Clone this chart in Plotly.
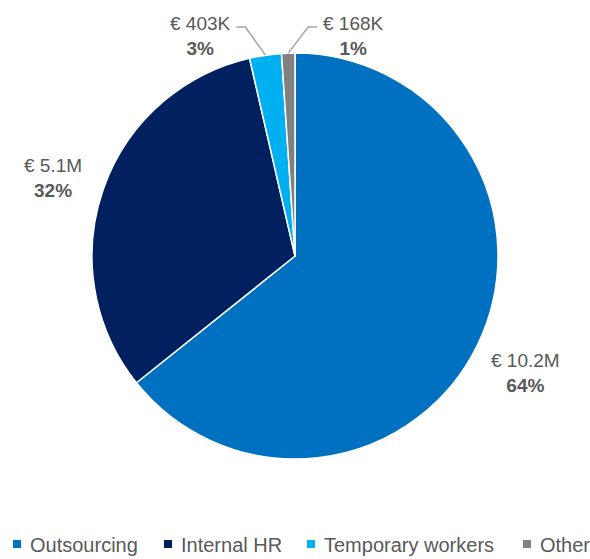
import math
import plotly.graph_objects as go

# ---- data ----
categories = ["Outsourcing", "Internal HR", "Temporary workers", "Other"]
values = [10.2e6, 5.1e6, 403e3, 168e3]
value_labels = ["€ 10.2M", "€ 5.1M", "€ 403K", "€ 168K"]
colors = ["#0070C0", "#002060", "#00B0F0", "#808080"]

# ---- layout constants (pixels) ----
W, H = 590, 559
CX, CY, R = 295, 256, 203
FONT = "Liberation Sans, Arial, sans-serif"
TXT = "#595959"
LEGEND_X = [13, 164, 307, 523]   # left edge of each legend swatch
LEGEND_Y = 545

total = sum(values)
pcts = [v / total for v in values]

fig = go.Figure()
fig.add_trace(go.Pie(
    labels=categories, values=values, sort=False, direction="clockwise",
    rotation=0, textinfo="none", hoverinfo="label+value+percent", showlegend=False,
    marker=dict(colors=colors, line=dict(color="white", width=1.5)),
    domain=dict(x=[(CX - R) / W, (CX + R) / W], y=[1 - (CY + R) / H, 1 - (CY - R) / H]),
))

# hidden pixel-space axes for annotations / leader lines / legend
fig.add_trace(go.Scatter(x=[0], y=[0], mode="markers", marker=dict(opacity=0),
                         showlegend=False, hoverinfo="skip"))

annotations = []
shapes = []
cum = 0.0
small_count = 0
for i, (cat, p) in enumerate(zip(categories, pcts)):
    mid = (cum + p / 2) * 2 * math.pi
    cum += p
    sx, sy = math.sin(mid), -math.cos(mid)
    text = f"{value_labels[i]}<br><b>{round(p * 100):.0f}%</b>"
    if p > 0.1:
        lx, ly = CX + 1.26 * R * sx, CY + 1.26 * R * sy + 6
        annotations.append(dict(x=lx, y=ly, xref="x", yref="y", text=text, showarrow=False,
                                align="center", xanchor="center", yanchor="middle",
                                font=dict(family=FONT, size=19, color=TXT)))
    else:
        ex, ey = CX + R * sx, CY + R * sy
        side = -1 if small_count == 0 else 1
        small_count += 1
        bx, by = ex + side * 20, 27
        hx = bx + side * 9
        shapes.append(dict(type="path", xref="x", yref="y",
                           path=f"M {ex},{ey} L {bx},{by} L {hx},{by}",
                           line=dict(color="#A6A6A6", width=1.5)))
        annotations.append(dict(x=hx + side * 36, y=by + 9, xref="x", yref="y", text=text,
                                showarrow=False, align="center", xanchor="center",
                                yanchor="middle",
                                font=dict(family=FONT, size=19, color=TXT)))

# legend built in pixel space
for cat, col, lx in zip(categories, colors, LEGEND_X):
    shapes.append(dict(type="rect", xref="x", yref="y", x0=lx, x1=lx + 8,
                       y0=LEGEND_Y - 5, y1=LEGEND_Y + 3, fillcolor=col, line=dict(width=0)))
    annotations.append(dict(x=lx + 15, y=LEGEND_Y, xref="x", yref="y", text=cat,
                            showarrow=False, xanchor="left", yanchor="middle",
                            font=dict(family=FONT, size=20, color=TXT)))

fig.update_layout(
    width=W, height=H, margin=dict(l=0, r=0, t=0, b=0),
    paper_bgcolor="white", plot_bgcolor="rgba(0,0,0,0)",
    xaxis=dict(range=[0, W], visible=False, fixedrange=True),
    yaxis=dict(range=[H, 0], visible=False, fixedrange=True),
    annotations=annotations, shapes=shapes,
    showlegend=False,
)

fig.write_html("out.html", config={"displayModeBar": False},
               post_script="document.body.style.margin='0';document.body.style.overflow='hidden';")
